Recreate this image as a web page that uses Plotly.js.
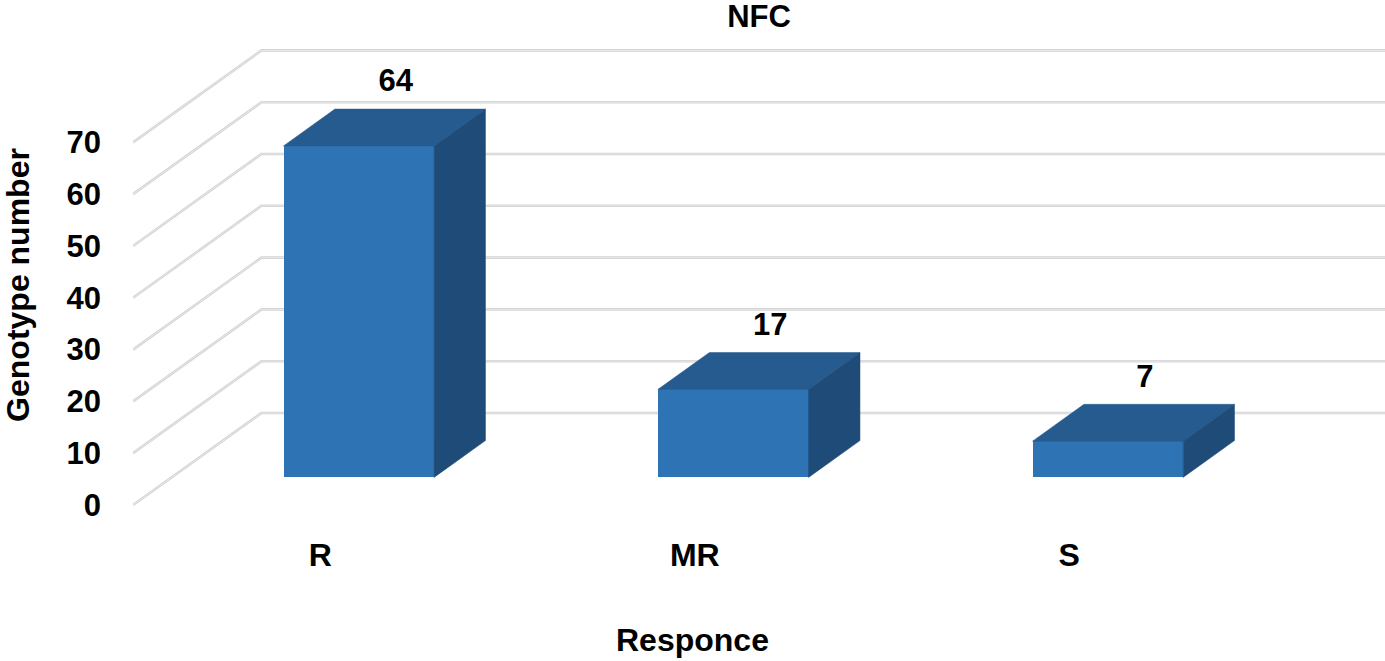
<!DOCTYPE html>
<html>
<head>
<meta charset="utf-8">
<script src="https://cdn.plot.ly/plotly-3.0.1.min.js"></script>
<style>html,body{margin:0;padding:0;background:#fff;}#chart{width:1385px;height:661px;}</style>
</head>
<body>
<div id="chart"></div>
<script>
// ---- data ----
const categories = ['R', 'MR', 'S'];
const values = [64, 17, 7];
const yTicks = [0, 10, 20, 30, 40, 50, 60, 70];
const chartTitle = 'NFC';
const xTitle = 'Responce';
const yTitle = 'Genotype number';

// ---- 3D look (oblique projection in axis units) ----
const DEPTH_X = 0.343;   // full floor depth, x-axis units
const DEPTH_Y = 17.76;   // full floor depth, y-axis units
const BAR_FRONT = 0.3, BAR_BACK = 0.7;
const BAR_W = 0.402;
const FRONT_COL = '#2E74B5', TOP_COL = '#255B8E', SIDE_COL = '#1F4B78';
const GRID_COL = '#D3D3D3';
const FAMILY = 'Liberation Sans, Arial, sans-serif';
const FONT = {family: FAMILY, size: 31, color: '#000', weight: 'bold'};
const FONT_BIG = {family: FAMILY, size: 32, color: '#000', weight: 'bold'};

const idx = categories.map((c, i) => i);
const xMin = -0.5, xMax = categories.length - 0.5 + DEPTH_X;

// gridlines (left wall diagonal + back wall) as shapes under the traces
const shapes = [];
yTicks.forEach(t => {
  const path = 'M' + xMin + ',' + t + ' L' + (xMin + DEPTH_X) + ',' + (t + DEPTH_Y) +
               ' L' + xMax + ',' + (t + DEPTH_Y);
  shapes.push({type: 'path', xref: 'x', yref: 'y', path: path, layer: 'below',
    line: {color: GRID_COL, width: 2.6}});
  shapes.push({type: 'path', xref: 'x', yref: 'y', path: path, layer: 'below',
    line: {color: '#EEEEEE', width: 0.8}});
});

const traces = [];
const base = BAR_FRONT * DEPTH_Y;
const dX = (BAR_BACK - BAR_FRONT) * DEPTH_X;
const dY = (BAR_BACK - BAR_FRONT) * DEPTH_Y;
const frontX = idx.map(i => i + BAR_FRONT * DEPTH_X);

values.forEach((v, i) => {
  const xl = frontX[i] - BAR_W / 2, xr = frontX[i] + BAR_W / 2;
  const top = base + v;
  traces.push({type: 'scatter', mode: 'lines', fill: 'toself', fillcolor: TOP_COL,
    x: [xl, xr, xr + dX, xl + dX, xl], y: [top, top, top + dY, top + dY, top],
    line: {color: TOP_COL, width: 0.5}, hoverinfo: 'skip', showlegend: false});
  traces.push({type: 'scatter', mode: 'lines', fill: 'toself', fillcolor: SIDE_COL,
    x: [xr, xr + dX, xr + dX, xr, xr], y: [base, base + dY, top + dY, top, base],
    line: {color: SIDE_COL, width: 0.5}, hoverinfo: 'skip', showlegend: false});
});

// front faces as real bars
traces.push({type: 'bar', x: frontX, y: values, base: values.map(() => base), width: BAR_W,
  marker: {color: FRONT_COL, line: {width: 0}}, showlegend: false,
  hovertext: categories, hoverinfo: 'text+y'});

// data labels
traces.push({type: 'scatter', mode: 'text',
  x: frontX.map(x => x + dX / 2 + 0.03),
  y: values.map(v => base + v + dY + 4.9),
  text: values.map(String), textposition: 'middle center',
  textfont: FONT, hoverinfo: 'skip', showlegend: false, cliponaxis: false});

const layout = {
  width: 1385, height: 661,
  margin: {l: 133, r: 0, t: 40, b: 131},
  paper_bgcolor: '#fff', plot_bgcolor: '#fff',
  font: FONT,
  shapes: shapes,
  title: {text: chartTitle, font: FONT, xref: 'paper', x: 0.5, xanchor: 'center',
    yref: 'container', y: 1 - 16 / 661, yanchor: 'middle'},
  xaxis: {range: [xMin, xMax], tickvals: idx, ticktext: categories, showgrid: false,
    zeroline: false, showline: false, ticks: '', tickfont: FONT_BIG, ticklabelstandoff: 3,
    fixedrange: true},
  yaxis: {range: [-25 / 5.18, 465 / 5.18], tickvals: yTicks, showgrid: false, zeroline: false,
    showline: false, ticks: '', tickfont: FONT, ticklabelstandoff: 31,
    title: {text: yTitle, font: FONT_BIG, standoff: 30}, fixedrange: true},
  annotations: [{text: xTitle, xref: 'paper', yref: 'paper', x: (692 - 133) / 1252,
    y: -(640 - 530) / 490, xanchor: 'center', yanchor: 'middle', showarrow: false, font: FONT_BIG}],
  bargap: 0
};

Plotly.newPlot('chart', traces, layout, {displayModeBar: false, staticPlot: true});
</script>
</body>
</html>
